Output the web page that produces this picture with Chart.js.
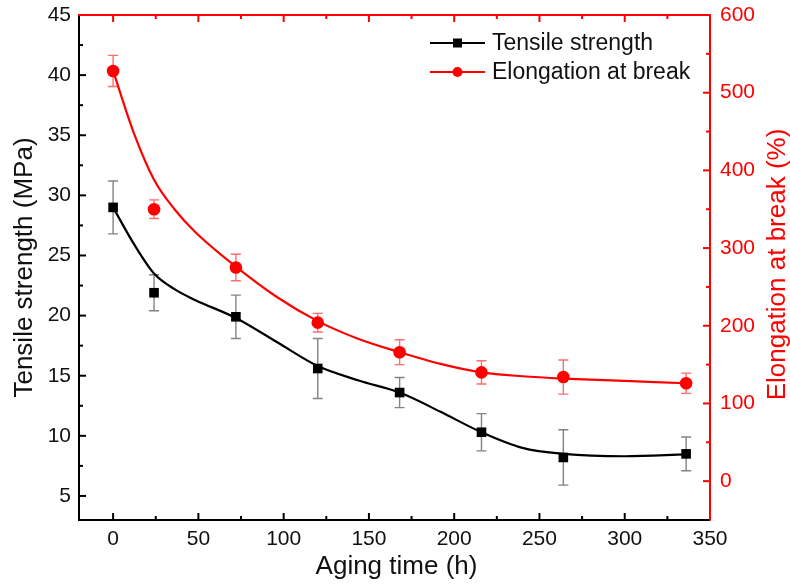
<!DOCTYPE html>
<html>
<head>
<meta charset="utf-8">
<script src="https://cdn.jsdelivr.net/npm/chart.js@4.4.1/dist/chart.umd.min.js"></script>
<style>
  html, body { margin: 0; padding: 0; background: #fff; }
  canvas { display: block; }
</style>
</head>
<body>
<canvas id="grafico" width="790" height="584"></canvas>
<script>
// dados medidos
const tempos = [0, 24, 72, 120, 168, 216, 264, 336];
const tensao = [29.0, 21.9, 19.9, 15.6, 13.6, 10.3, 8.2, 8.5];
const tensaoErro = [2.2, 1.5, 1.8, 2.5, 1.25, 1.55, 2.3, 1.4];
const alongamento = [528, 350, 275, 204, 166, 140, 134, 126];
const alongamentoErro = [20, 12, 17, 12, 16, 15, 22, 13];

// curvas ajustadas
const temposCurva = [0, 12, 24, 36, 48, 72, 96, 120, 144, 168, 192, 216, 240, 264, 300, 336];
const tensaoCurva = [29.0, 26.0, 23.5, 22.2, 21.3, 19.8, 17.8, 15.8, 14.6, 13.6, 12.0, 10.3, 9.0, 8.5, 8.3, 8.45];
const alongamentoCurva = [528, 449, 388, 350, 321, 276, 237, 206, 183, 166, 151, 140, 135, 132, 129, 126];

// ticks
const ticksX = [0, 50, 100, 150, 200, 250, 300, 350];
const ticksXMenores = [25, 75, 125, 175, 225, 275, 325];
const ticksY = [5, 10, 15, 20, 25, 30, 35, 40, 45];
const ticksYMenores = [7.5, 12.5, 17.5, 22.5, 27.5, 32.5, 37.5, 42.5];
const ticksY2 = [0, 100, 200, 300, 400, 500, 600];
const ticksY2Menores = [-50, 50, 150, 250, 350, 450, 550];

const VERMELHO = '#ff0000';
const PRETO = '#000000';
const FONTE = '"Liberation Sans", Arial, sans-serif';

function pontos(xs, ys) {
    return xs.map((x, i) => ({ x: x, y: ys[i] }));
}

const barrasErro = {
    id: 'barrasErro',
    beforeDatasetsDraw(chart) {
        const ctx = chart.ctx;
        const sx = chart.scales.x;
        const series = [
            { ys: tensao, err: tensaoErro, escala: chart.scales.y, cor: 'rgba(90,90,90,0.75)' },
            { ys: alongamento, err: alongamentoErro, escala: chart.scales.y2, cor: 'rgba(255,60,60,0.75)' }
        ];
        ctx.save();
        ctx.lineWidth = 1.4;
        series.forEach(s => {
            ctx.strokeStyle = s.cor;
            tempos.forEach((t, i) => {
                const px = sx.getPixelForValue(t);
                const top = s.escala.getPixelForValue(s.ys[i] + s.err[i]);
                const bot = s.escala.getPixelForValue(s.ys[i] - s.err[i]);
                ctx.beginPath();
                ctx.moveTo(px, top); ctx.lineTo(px, bot);
                ctx.moveTo(px - 5, top); ctx.lineTo(px + 5, top);
                ctx.moveTo(px - 5, bot); ctx.lineTo(px + 5, bot);
                ctx.stroke();
            });
        });
        ctx.restore();
    }
};

const moldura = {
    id: 'moldura',
    afterDraw(chart) {
        const ctx = chart.ctx;
        const a = chart.chartArea;
        const { x, y, y2 } = chart.scales;
        ctx.save();
        ctx.lineWidth = 2;

        // ticks inferiores e superiores
        function ticksHorizontais(vals, len) {
            vals.forEach(v => {
                const px = x.getPixelForValue(v);
                ctx.strokeStyle = PRETO;
                ctx.beginPath(); ctx.moveTo(px, a.bottom); ctx.lineTo(px, a.bottom - len); ctx.stroke();
                ctx.strokeStyle = VERMELHO;
                ctx.beginPath(); ctx.moveTo(px, a.top); ctx.lineTo(px, a.top + len); ctx.stroke();
            });
        }
        ticksHorizontais(ticksX, 7);
        ticksHorizontais(ticksXMenores, 4);

        ctx.strokeStyle = PRETO;
        ticksY.forEach(v => {
            const py = y.getPixelForValue(v);
            ctx.beginPath(); ctx.moveTo(a.left, py); ctx.lineTo(a.left + 7, py); ctx.stroke();
        });
        ticksYMenores.forEach(v => {
            const py = y.getPixelForValue(v);
            ctx.beginPath(); ctx.moveTo(a.left, py); ctx.lineTo(a.left + 4, py); ctx.stroke();
        });
        ctx.strokeStyle = VERMELHO;
        ticksY2.forEach(v => {
            const py = y2.getPixelForValue(v);
            ctx.beginPath(); ctx.moveTo(a.right, py); ctx.lineTo(a.right - 7, py); ctx.stroke();
        });
        ticksY2Menores.forEach(v => {
            const py = y2.getPixelForValue(v);
            ctx.beginPath(); ctx.moveTo(a.right, py); ctx.lineTo(a.right - 4, py); ctx.stroke();
        });

        // eixos
        ctx.strokeStyle = PRETO;
        ctx.beginPath();
        ctx.moveTo(a.left, a.top); ctx.lineTo(a.left, a.bottom); ctx.lineTo(a.right, a.bottom);
        ctx.stroke();
        ctx.strokeStyle = VERMELHO;
        ctx.beginPath();
        ctx.moveTo(a.left - 1, a.top); ctx.lineTo(a.right, a.top); ctx.lineTo(a.right, a.bottom + 1);
        ctx.stroke();

        // títulos
        ctx.font = '26px ' + FONTE;
        ctx.textAlign = 'center';
        ctx.textBaseline = 'alphabetic';
        ctx.fillStyle = '#111';
        ctx.fillText('Aging time (h)', (a.left + a.right) / 2 + 2, 574);

        const cy = (a.top + a.bottom) / 2;
        ctx.save();
        ctx.translate(32, cy);
        ctx.rotate(-Math.PI / 2);
        ctx.fillText('Tensile strength (MPa)', 0, 0);
        ctx.restore();

        ctx.save();
        ctx.fillStyle = VERMELHO;
        ctx.translate(785, cy - 3);
        ctx.rotate(-Math.PI / 2);
        ctx.fillText('Elongation at break (%)', 0, 0);
        ctx.restore();

        // legenda
        const itens = [
            { texto: 'Tensile strength', cor: PRETO, estilo: 'rect', y: 43 },
            { texto: 'Elongation at break', cor: VERMELHO, estilo: 'circle', y: 72 }
        ];
        ctx.font = '23px ' + FONTE;
        ctx.textAlign = 'left';
        ctx.textBaseline = 'middle';
        itens.forEach(it => {
            ctx.strokeStyle = it.cor;
            ctx.fillStyle = it.cor;
            ctx.lineWidth = 2;
            ctx.beginPath(); ctx.moveTo(430, it.y); ctx.lineTo(485, it.y); ctx.stroke();
            if (it.estilo === 'rect') {
                ctx.fillRect(453, it.y - 4.5, 9, 9);
            } else {
                ctx.beginPath(); ctx.arc(457.5, it.y, 5, 0, Math.PI * 2); ctx.fill();
            }
            ctx.fillStyle = '#111';
            ctx.fillText(it.texto, 492, it.y + 1);
        });

        ctx.restore();
    }
};

// largura fixa do eixo e sem padding automático dos rótulos
function eixoVertical(largura) {
    return s => {
        s.width = largura;
        s.paddingTop = 0;
        s.paddingBottom = 0;
    };
}

new Chart(document.getElementById('grafico'), {
    type: 'scatter',
    data: {
        datasets: [
            {
                label: 'Tensile strength',
                data: pontos(tempos, tensao),
                yAxisID: 'y',
                pointStyle: 'rect',
                pointRadius: 6.8,
                backgroundColor: PRETO,
                borderColor: PRETO,
                borderWidth: 0,
                showLine: false
            },
            {
                label: 'Elongation at break',
                data: pontos(tempos, alongamento),
                yAxisID: 'y2',
                pointStyle: 'circle',
                pointRadius: 6.3,
                backgroundColor: VERMELHO,
                borderColor: VERMELHO,
                borderWidth: 0,
                showLine: false
            },
            {
                label: 'ajuste tensão',
                data: pontos(temposCurva, tensaoCurva),
                yAxisID: 'y',
                showLine: true,
                pointRadius: 0,
                borderColor: PRETO,
                borderWidth: 2.2,
                cubicInterpolationMode: 'monotone'
            },
            {
                label: 'ajuste alongamento',
                data: pontos(temposCurva, alongamentoCurva),
                yAxisID: 'y2',
                showLine: true,
                pointRadius: 0,
                borderColor: VERMELHO,
                borderWidth: 2.2,
                cubicInterpolationMode: 'monotone'
            }
        ]
    },
    options: {
        responsive: false,
        animation: false,
        devicePixelRatio: 1,
        layout: { autoPadding: false, padding: { top: 15, left: 0, right: 0, bottom: 0 } },
        plugins: {
            legend: { display: false },
            tooltip: { enabled: false }
        },
        scales: {
            x: {
                type: 'linear',
                min: -20,
                max: 350,
                grid: { display: false, drawTicks: false },
                border: { display: false },
                afterBuildTicks: s => { s.ticks = ticksX.map(v => ({ value: v })); },
                afterFit: s => { s.height = 64; },
                ticks: {
                    padding: 7,
                    color: '#111',
                    font: { family: FONTE, size: 21 },
                    maxRotation: 0
                }
            },
            y: {
                type: 'linear',
                position: 'left',
                min: 3,
                max: 45,
                grid: { display: false, drawTicks: false },
                border: { display: false },
                afterBuildTicks: s => { s.ticks = ticksY.map(v => ({ value: v })); },
                afterFit: eixoVertical(79),
                ticks: {
                    padding: 8,
                    color: '#111',
                    font: { family: FONTE, size: 21 }
                }
            },
            y2: {
                type: 'linear',
                position: 'right',
                min: -50,
                max: 600,
                grid: { display: false, drawTicks: false },
                border: { display: false },
                afterBuildTicks: s => { s.ticks = ticksY2.map(v => ({ value: v })); },
                afterFit: eixoVertical(80),
                ticks: {
                    padding: 10,
                    color: VERMELHO,
                    font: { family: FONTE, size: 21 }
                }
            }
        }
    },
    plugins: [barrasErro, moldura]
});
</script>
</body>
</html>
